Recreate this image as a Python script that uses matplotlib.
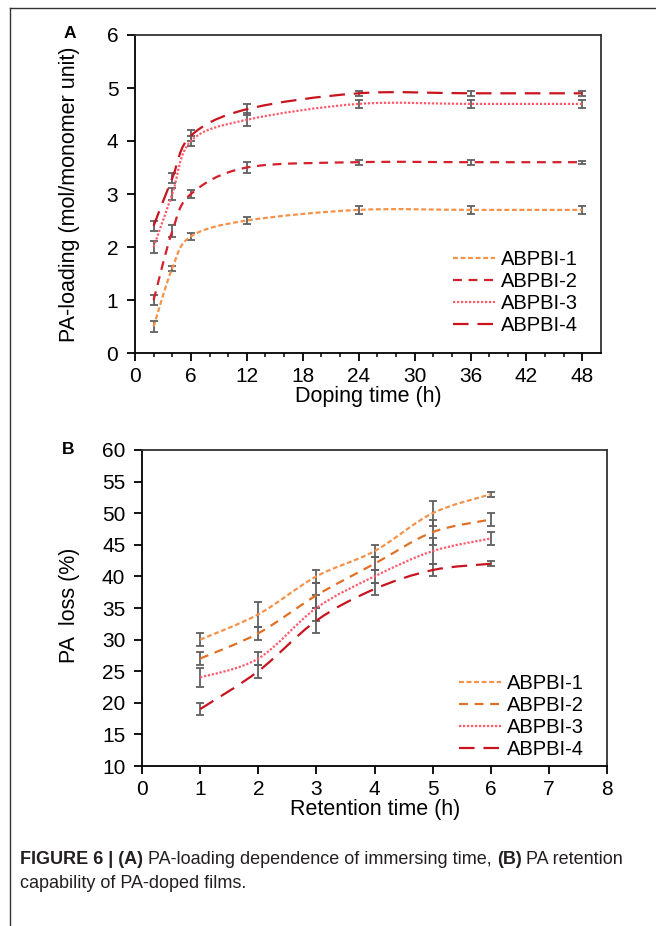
import numpy as np
import matplotlib
matplotlib.use("Agg")
import matplotlib.pyplot as plt
from matplotlib.path import Path
from matplotlib.patches import PathPatch
from matplotlib.lines import Line2D

plt.rcParams['font.family'] = ['Liberation Sans', 'DejaVu Sans']

labels = ["ABPBI-1", "ABPBI-2", "ABPBI-3", "ABPBI-4"]

# panel A: PA loading vs doping time
dope_t = [2, 4, 6, 12, 24, 36, 48]
load_vals = [
    [0.5, 1.6, 2.2, 2.5, 2.7, 2.7, 2.7],
    [1.0, 2.3, 3.0, 3.5, 3.6, 3.6, 3.6],
    [2.0, 3.0, 4.0, 4.4, 4.7, 4.7, 4.7],
    [2.4, 3.3, 4.1, 4.6, 4.9, 4.9, 4.9],
]
load_err = [
    [0.1, 0.05, 0.07, 0.06, 0.07, 0.07, 0.07],
    [0.1, 0.12, 0.08, 0.1, 0.05, 0.05, 0.03],
    [0.12, 0.12, 0.1, 0.12, 0.07, 0.07, 0.07],
    [0.1, 0.1, 0.1, 0.1, 0.05, 0.05, 0.05],
]

# panel B: PA loss vs retention time
ret_t = [1, 2, 3, 4, 5, 6]
loss_vals = [
    [30, 34, 40, 44, 50, 53],
    [27, 31, 37, 42, 47, 49],
    [24, 27, 35, 40, 44, 46],
    [19, 25, 33, 38, 41, 42],
]
loss_err = [
    [1, 2, 1, 1, 2, 0.4],
    [1, 1, 2, 1, 2, 1],
    [1.5, 1, 2, 1, 2, 1],
    [1, 1, 2, 1, 1, 0.4],
]

colorsA = ["#f5924a", "#d4202a", "#ff5a6a", "#c8141e"]
colorsB = ["#f5924a", "#e07026", "#ff5a6a", "#c8141e"]
dashes = [(2.2, 1.2), (4, 3), (1, 0.8), (7, 4)]


def smooth_line(ax, x, y, color, dash, label, xr, yr, sx, sy):
    # excel-like smoothed line (catmull-rom drawn as bezier curves)
    px = np.array(x, float) / xr * sx
    py = np.array(y, float) / yr * sy
    pts = np.column_stack([px, py])
    n = len(pts)
    verts = [pts[0]]
    codes = [Path.MOVETO]
    for i in range(n - 1):
        p0 = pts[i - 1] if i > 0 else pts[i]
        p1 = pts[i]
        p2 = pts[i + 1]
        p3 = pts[i + 2] if i + 2 < n else pts[i + 1]
        c1 = p1 + (p2 - p0) / 6
        c2 = p2 - (p3 - p1) / 6
        verts += [c1, c2, p2]
        codes += [Path.CURVE4] * 3
    verts = np.array(verts)
    verts[:, 0] = verts[:, 0] / sx * xr
    verts[:, 1] = verts[:, 1] / sy * yr
    patch = PathPatch(Path(verts, codes), fill=False, edgecolor=color, lw=1.6,
                      linestyle=(0, dash), zorder=3)
    ax.add_patch(patch)
    ax.plot([], [], color=color, lw=1.6, linestyle=(0, dash), label=label)


W, H = 656, 926
fig = plt.figure(figsize=(W / 100, H / 100), dpi=100)

axA = fig.add_axes([135 / W, 1 - 353 / H, (601 - 135) / W, (353 - 35) / H])
axB = fig.add_axes([142 / W, 1 - 766 / H, (607 - 142) / W, (766 - 450) / H])

axA.set_xlim(0, 50)
axA.set_ylim(0, 6)
axB.set_xlim(0, 8)
axB.set_ylim(10, 60)

for i in range(4):
    axA.errorbar(dope_t, load_vals[i], yerr=load_err[i], fmt="none", ecolor="#606060",
                 elinewidth=1.3, capsize=3, capthick=1.3, zorder=2)
    smooth_line(axA, dope_t, load_vals[i], colorsA[i], dashes[i], labels[i], 50, 6, 466, 318)
    axB.errorbar(ret_t, loss_vals[i], yerr=loss_err[i], fmt="none", ecolor="#606060",
                 elinewidth=1.3, capsize=3, capthick=1.3, zorder=2)
    smooth_line(axB, ret_t, loss_vals[i], colorsB[i], dashes[i], labels[i], 8, 50, 465, 316)

axA.set_xticks(np.arange(0, 49, 6))
axA.set_xticks(np.arange(0, 50, 2), minor=True)
axA.set_yticks(np.arange(0, 7, 1))
axB.set_xticks(np.arange(0, 9, 1))
axB.set_yticks(np.arange(10, 61, 5))

for ax in (axA, axB):
    ax.tick_params(direction="out", length=6, width=1.3, labelsize=15, pad=4)
    ax.tick_params(axis="y", pad=6)
    ax.tick_params(which="minor", direction="out", length=3, width=1.1)
    for s in ax.spines.values():
        s.set_linewidth(1.3)
    ax.spines["top"].set_color("#333333")
    ax.spines["right"].set_color("#333333")

axA.legend(loc="lower right", bbox_to_anchor=(0.99, 0.0), frameon=False, fontsize=14.5,
           handlelength=2.1, handletextpad=0.3, labelspacing=0.15)
axB.legend(loc="lower right", bbox_to_anchor=(0.99, -0.035), frameon=False, fontsize=14.5,
           handlelength=2.1, handletextpad=0.3, labelspacing=0.15)

fig.text(70 / W, 1 - 194 / H, "PA-loading (mol/monomer unit)", rotation=90,
         ha="center", va="center", fontsize=15.5)
fig.text(70 / W, 1 - 605 / H, "PA  loss (%)", rotation=90,
         ha="center", va="center", fontsize=15.5)
fig.text(368 / W, 1 - 396 / H, "Doping time (h)", ha="center", va="center", fontsize=15.5)
fig.text(375 / W, 1 - 810 / H, "Retention time (h)", ha="center", va="center", fontsize=15.5)
fig.text(70 / W, 1 - 33 / H, "A", ha="center", va="center", fontsize=12.5, fontweight="bold")
fig.text(68 / W, 1 - 449 / H, "B", ha="center", va="center", fontsize=12.5, fontweight="bold")

# page frame lines
fig.add_artist(Line2D([10 / W, 10 / W], [1 - 8 / H, 0], color="#333333", lw=1))
fig.add_artist(Line2D([10 / W, 1], [1 - 8 / H, 1 - 8 / H], color="#333333", lw=1))

# caption with bold parts
capc = "#231f20"
pieces = [("FIGURE 6 | (A)", "bold"), (" PA-loading dependence of immersing time, ", "normal"),
          ("(B)", "bold"), (" PA retention", "normal")]
fig.canvas.draw()
r = fig.canvas.get_renderer()
x = 20
for txt, wt in pieces:
    t = fig.text(x / W, 1 - 860 / H, txt, fontsize=13, fontweight=wt, color=capc,
                 va="center", ha="left")
    x += t.get_window_extent(renderer=r).width
fig.text(20 / W, 1 - 884 / H, "capability of PA-doped films.", fontsize=13, color=capc,
         va="center", ha="left")

fig.savefig("out.png", dpi=100)
